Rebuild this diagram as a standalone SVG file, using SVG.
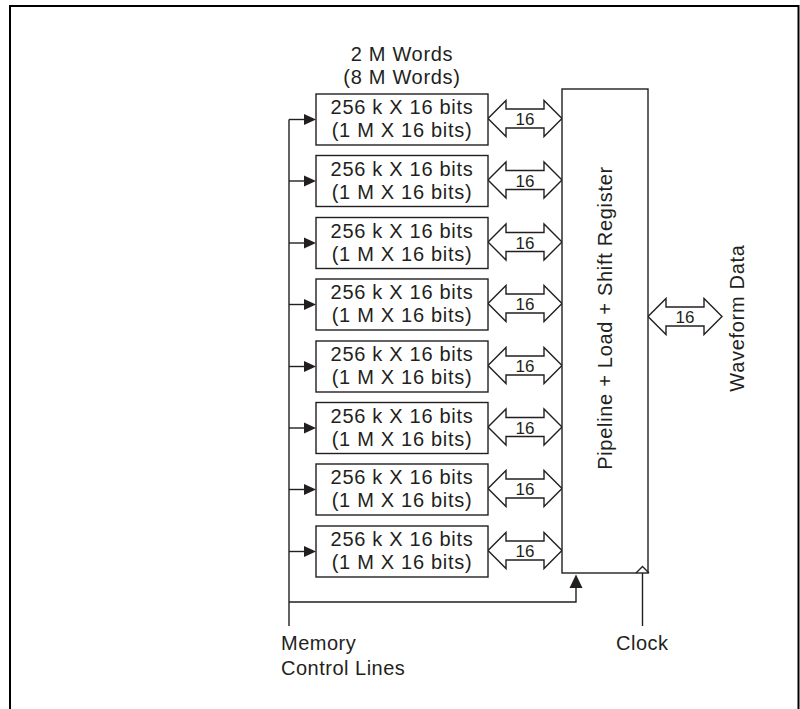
<svg xmlns="http://www.w3.org/2000/svg" width="800" height="709" viewBox="0 0 800 709">
<defs>
<style>
.ln{fill:none;stroke:#231f20;stroke-width:1.4}
.bx{fill:#fff;stroke:#231f20;stroke-width:1.4}
.t{font-family:"Liberation Sans",Arial,sans-serif;font-size:20px;letter-spacing:0.7px;fill:#231f20;text-anchor:middle}
.tl{font-family:"Liberation Sans",Arial,sans-serif;font-size:20px;letter-spacing:0.5px;fill:#231f20}
.n{font-family:"Liberation Sans",Arial,sans-serif;font-size:17px;fill:#231f20;text-anchor:middle}
.dbl{fill:#fff;stroke:#231f20;stroke-width:1.4;stroke-linejoin:miter}
</style>
<path id="dbl" d="M0,0 L18,-18 V-9.5 H56 V-18 L74,0 L56,18 V9.5 H18 V18 Z"/>
<path id="ah" d="M0,0 L-12,-5.5 L-12,5.5 Z" fill="#231f20"/>
</defs>
<path d="M10,709 V6 H798.5 V709" fill="none" stroke="#000" stroke-width="2"/>
<text class="t" x="402" y="61">2 M Words</text>
<text class="t" x="402" y="84">(8 M Words)</text>
<g id="connectors">
<path class="ln" d="M289,119.5 V626"/>
<path class="ln" d="M289,602 H576 V587"/>
<path d="M576,574.5 L569.5,588 L582.5,588 Z" fill="#231f20"/>
<path class="ln" d="M642.5,573 V626"/>
<g class="ln">
<path d="M289,119.5 H305"/><path d="M289,181 H305"/><path d="M289,243 H305"/><path d="M289,304.5 H305"/>
<path d="M289,366.5 H305"/><path d="M289,428 H305"/><path d="M289,489.5 H305"/><path d="M289,551.5 H305"/>
</g>
<use href="#ah" x="316" y="119.5"/><use href="#ah" x="316" y="181"/><use href="#ah" x="316" y="243"/><use href="#ah" x="316" y="304.5"/>
<use href="#ah" x="316" y="366.5"/><use href="#ah" x="316" y="428"/><use href="#ah" x="316" y="489.5"/><use href="#ah" x="316" y="551.5"/>
<g class="dbl">
<use href="#dbl" x="488" y="118.5"/><use href="#dbl" x="488" y="180"/><use href="#dbl" x="488" y="242"/><use href="#dbl" x="488" y="303.5"/>
<use href="#dbl" x="488" y="365.5"/><use href="#dbl" x="488" y="427"/><use href="#dbl" x="488" y="488.5"/><use href="#dbl" x="488" y="550.5"/>
<use href="#dbl" x="648" y="316.5"/>
</g>
<text class="n" x="525" y="125">16</text><text class="n" x="525" y="186.5">16</text><text class="n" x="525" y="248.5">16</text><text class="n" x="525" y="310">16</text>
<text class="n" x="525" y="372">16</text><text class="n" x="525" y="433.5">16</text><text class="n" x="525" y="495">16</text><text class="n" x="525" y="557">16</text>
<text class="n" x="685" y="323">16</text>
</g>
<g id="mem1"><rect class="bx" x="316" y="94" width="172" height="51"/><text class="t" x="402" y="114">256 k X 16 bits</text><text class="t" x="402" y="137">(1 M X 16 bits)</text></g>
<g id="mem2"><rect class="bx" x="316" y="155.5" width="172" height="51"/><text class="t" x="402" y="175.5">256 k X 16 bits</text><text class="t" x="402" y="198.5">(1 M X 16 bits)</text></g>
<g id="mem3"><rect class="bx" x="316" y="217.5" width="172" height="51"/><text class="t" x="402" y="237.5">256 k X 16 bits</text><text class="t" x="402" y="260.5">(1 M X 16 bits)</text></g>
<g id="mem4"><rect class="bx" x="316" y="279" width="172" height="51"/><text class="t" x="402" y="299">256 k X 16 bits</text><text class="t" x="402" y="322">(1 M X 16 bits)</text></g>
<g id="mem5"><rect class="bx" x="316" y="341" width="172" height="51"/><text class="t" x="402" y="361">256 k X 16 bits</text><text class="t" x="402" y="384">(1 M X 16 bits)</text></g>
<g id="mem6"><rect class="bx" x="316" y="402.5" width="172" height="51"/><text class="t" x="402" y="422.5">256 k X 16 bits</text><text class="t" x="402" y="445.5">(1 M X 16 bits)</text></g>
<g id="mem7"><rect class="bx" x="316" y="464" width="172" height="51"/><text class="t" x="402" y="484">256 k X 16 bits</text><text class="t" x="402" y="507">(1 M X 16 bits)</text></g>
<g id="mem8"><rect class="bx" x="316" y="526" width="172" height="51"/><text class="t" x="402" y="546">256 k X 16 bits</text><text class="t" x="402" y="569">(1 M X 16 bits)</text></g>
<g id="register">
<rect class="bx" x="562" y="89" width="86" height="484"/>
<path class="ln" d="M636,573 L642.5,566.5 L649,573"/>
<text class="t" transform="translate(612,318) rotate(-90)">Pipeline + Load + Shift Register</text>
</g>
<g id="waveform"><text class="t" transform="translate(744,318) rotate(-90)">Waveform Data</text></g>
<g id="labels">
<text class="tl" x="281" y="650">Memory</text>
<text class="tl" x="281" y="675">Control Lines</text>
<text class="tl" x="616" y="650">Clock</text>
</g>
</svg>
